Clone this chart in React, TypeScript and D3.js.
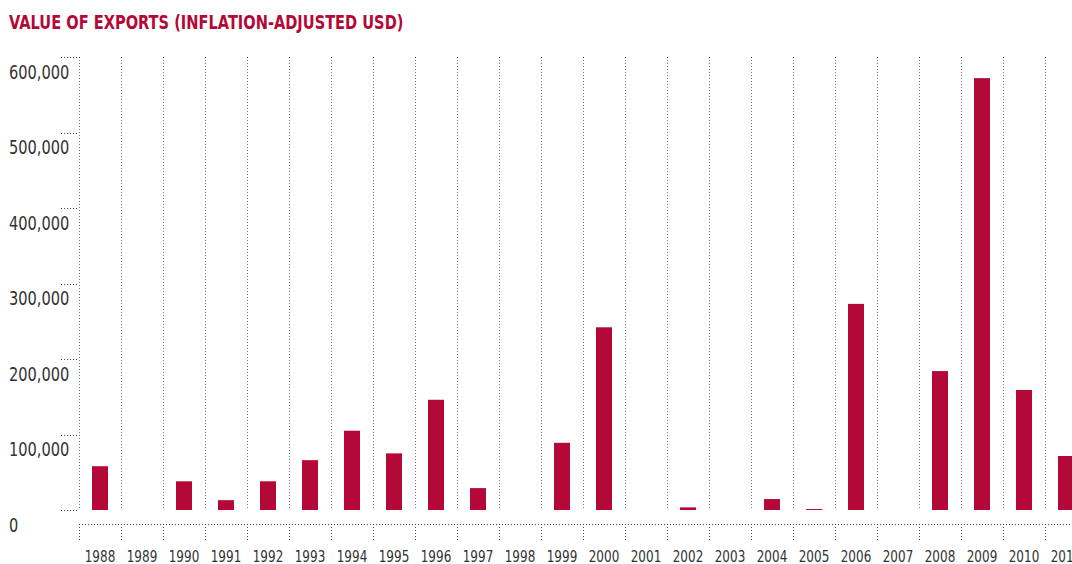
import { useEffect, useRef } from "react";
import * as d3 from "d3";

const years = [
  "1988", "1989", "1990", "1991", "1992", "1993", "1994", "1995",
  "1996", "1997", "1998", "1999", "2000", "2001", "2002", "2003",
  "2004", "2005", "2006", "2007", "2008", "2009", "2010", "2011",
];
const exportValues = [
  58000, 0, 38000, 13000, 38000, 66000, 105000, 75000,
  146000, 29000, 0, 89000, 242000, 0, 3500, 0,
  14500, 1300, 273000, 0, 184000, 572000, 159000, 71500,
];
const yTicks = [0, 100000, 200000, 300000, 400000, 500000, 600000];

const TITLE = "VALUE OF EXPORTS (INFLATION-ADJUSTED USD)";
const RED = "#b30838";
const FONT = "'DejaVu Sans', sans-serif";

export default function App() {
  const svgRef = useRef<SVGSVGElement | null>(null);

  useEffect(() => {
    const svgEl = svgRef.current;
    if (!svgEl) return;
    const width = 1072;
    const height = 564;
    const left = 79;
    const step = 42;
    const barWidth = 16;
    const baseY = 510;
    const topY = 57;
    const axisY = 524;

    const x = d3
      .scaleBand()
      .domain(years)
      .range([left, left + step * years.length])
      .padding(0);
    const y = d3.scaleLinear().domain([0, 600000]).range([baseY, topY]);

    const svg = d3.select(svgEl);
    svg.selectAll("*").remove();
    svg.attr("viewBox", `0 0 ${width} ${height}`);

    // condensed look: DejaVu squeezed horizontally
    svg
      .append("text")
      .attr("transform", "translate(9,29) scale(0.73,1)")
      .attr("fill", RED)
      .attr("font-family", FONT)
      .attr("font-weight", "bold")
      .attr("font-size", 20)
      .text(TITLE);

    // vertical dotted gridlines at band edges
    const edges = years.map((yr) => x(yr) ?? 0).concat([(x(years[years.length - 1]) ?? 0) + step]);
    const grid = svg.append("g");
    grid
      .selectAll("line")
      .data(edges)
      .join("line")
      .attr("x1", (d) => d + 0.5)
      .attr("x2", (d) => d + 0.5)
      .attr("y1", topY)
      .attr("y2", baseY)
      .attr("stroke", "#777")
      .attr("stroke-width", 1)
      .attr("stroke-dasharray", "1,2");
    grid
      .selectAll("rect")
      .data(edges)
      .join("rect")
      .attr("x", (d) => d)
      .attr("y", topY)
      .attr("width", 1)
      .attr("height", 1)
      .attr("fill", "#333");

    // y ticks
    const yAxis = svg.append("g");
    yAxis
      .selectAll("line")
      .data(yTicks)
      .join("line")
      .attr("x1", 61)
      .attr("x2", left)
      .attr("y1", (d) => Math.round(y(d)) + 0.5)
      .attr("y2", (d) => Math.round(y(d)) + 0.5)
      .attr("stroke", "#444")
      .attr("stroke-dasharray", "1,2");
    yAxis
      .selectAll("text")
      .data(yTicks)
      .join("text")
      .attr("transform", (d) => `translate(9,${y(d) + 21.5}) scale(0.73,1)`)
      .attr("fill", "#333")
      .attr("font-family", FONT)
      .attr("font-size", 20)
      .text((d) => d3.format(",")(d));

    // bars
    svg
      .append("g")
      .selectAll("rect")
      .data(exportValues)
      .join("rect")
      .attr("x", (_, i) => (x(years[i]) ?? 0) + (x.bandwidth() - barWidth) / 2)
      .attr("width", barWidth)
      .attr("y", (d) => y(d))
      .attr("height", (d) => baseY - y(d))
      .attr("fill", RED);

    // bottom axis
    const xAxis = svg.append("g");
    xAxis
      .append("line")
      .attr("x1", left)
      .attr("x2", width)
      .attr("y1", axisY + 0.5)
      .attr("y2", axisY + 0.5)
      .attr("stroke", "#444")
      .attr("stroke-dasharray", "1,2");
    xAxis
      .selectAll("line.tick")
      .data(edges)
      .join("line")
      .attr("class", "tick")
      .attr("x1", (d) => d + 0.5)
      .attr("x2", (d) => d + 0.5)
      .attr("y1", axisY)
      .attr("y2", 541)
      .attr("stroke", "#444")
      .attr("stroke-dasharray", "1,2");
    xAxis
      .selectAll("text")
      .data(years)
      .join("text")
      .attr("transform", (d) => `translate(${(x(d) ?? 0) + x.bandwidth() / 2},562) scale(0.8,1)`)
      .attr("text-anchor", "middle")
      .attr("fill", "#333")
      .attr("font-family", FONT)
      .attr("font-size", 15)
      .text((d) => d);
  }, []);

  return (
    <svg
      ref={svgRef}
      width={1072}
      height={564}
      style={{ position: "absolute", left: 0, top: 0, background: "#fff" }}
    />
  );
}
